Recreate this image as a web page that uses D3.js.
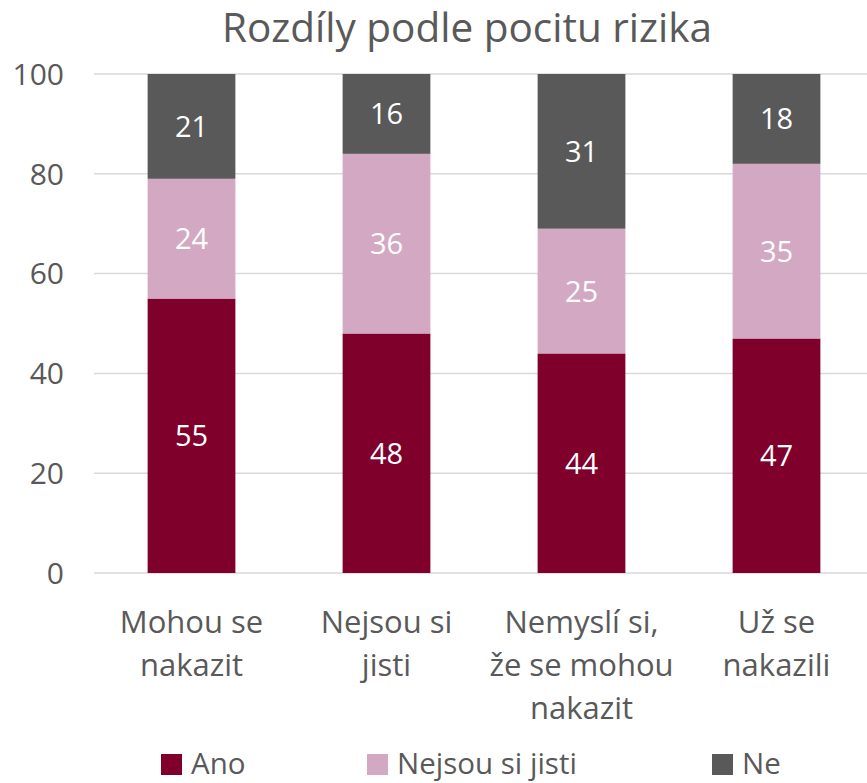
<!DOCTYPE html>
<html><head><meta charset="utf-8">
<script src="https://cdn.jsdelivr.net/npm/d3@7"></script>
<style>body{margin:0;background:#fff;} svg{display:block;font-family:"Open Sans",sans-serif;}</style>
</head><body>
<svg id="c" width="867" height="783"></svg>
<script>
const categories = [["Mohou se","nakazit"],["Nejsou si","jisti"],["Nemyslí si,","že se mohou","nakazit"],["Už se","nakazili"]];
const seriesNames = ["Ano","Nejsou si jisti","Ne"];
const ano = [55,48,44,47];
const nejsou = [24,36,25,35];
const ne = [21,16,31,18];
const yTicks = [0,20,40,60,80,100];
const colors = ["#80002c","#d3a8c3","#595959"];
const title = "Rozdíly podle pocitu rizika";

const svg = d3.select("#c");
const textColor = "#595959";
const x = d3.scaleBand().domain(d3.range(categories.length)).range([94,874]).padding(0);
const barW = x.step()*0.45;
const cx = i => x(i)+x.bandwidth()/2;
const y = d3.scaleLinear().domain([0,100]).range([573,74]);

// gridlines
svg.append("g").selectAll("line").data(yTicks).join("line")
  .attr("x1",94).attr("x2",874).attr("y1",d=>y(d)).attr("y2",d=>y(d))
  .attr("stroke","#d9d9d9").attr("stroke-width",1.5);

// y labels
svg.append("g").selectAll("text").data(yTicks).join("text")
  .attr("x",64).attr("y",d=>y(d)).attr("dy","0.36em").attr("text-anchor","end")
  .attr("fill",textColor).style("font-size","30px").text(d=>d);

const rows = categories.map((c,i)=>({i, Ano:ano[i], Nej:nejsou[i], Ne:ne[i]}));
const stack = d3.stack().keys(["Ano","Nej","Ne"])(rows);

const g = svg.append("g");
stack.forEach((layer,k)=>{
  g.append("g").selectAll("rect").data(layer).join("rect")
    .attr("x",d=>cx(d.data.i)-barW/2).attr("width",barW)
    .attr("y",d=>y(d[1])).attr("height",d=>y(d[0])-y(d[1]))
    .attr("fill",colors[k]);
  g.append("g").selectAll("text").data(layer).join("text")
    .attr("x",d=>cx(d.data.i)).attr("y",d=>(y(d[0])+y(d[1]))/2)
    .attr("dy","0.36em").attr("text-anchor","middle").attr("fill","#fff")
    .style("font-size","29px").text(d=>d[1]-d[0]);
});

// x labels
const xl = svg.append("g");
categories.forEach((lines,i)=>{
  const t = xl.append("text").attr("text-anchor","middle").attr("fill",textColor).style("font-size","31px");
  lines.forEach((ln,j)=>{
    t.append("tspan").attr("x",cx(i)).attr("y",633+j*43).text(ln);
  });
});

// title
svg.append("text").attr("x",467).attr("y",42).attr("text-anchor","middle").attr("fill",textColor)
  .style("font-size","40.5px").text(title);

// legend
const legX = [161,367,712];
const leg = svg.append("g");
seriesNames.forEach((n,k)=>{
  leg.append("rect").attr("x",legX[k]).attr("y",754).attr("width",21).attr("height",21).attr("fill",colors[k]);
  leg.append("text").attr("x",legX[k]+30).attr("y",774).attr("fill",textColor)
    .style("font-size","29.5px").text(n);
});
</script>
</body></html>
